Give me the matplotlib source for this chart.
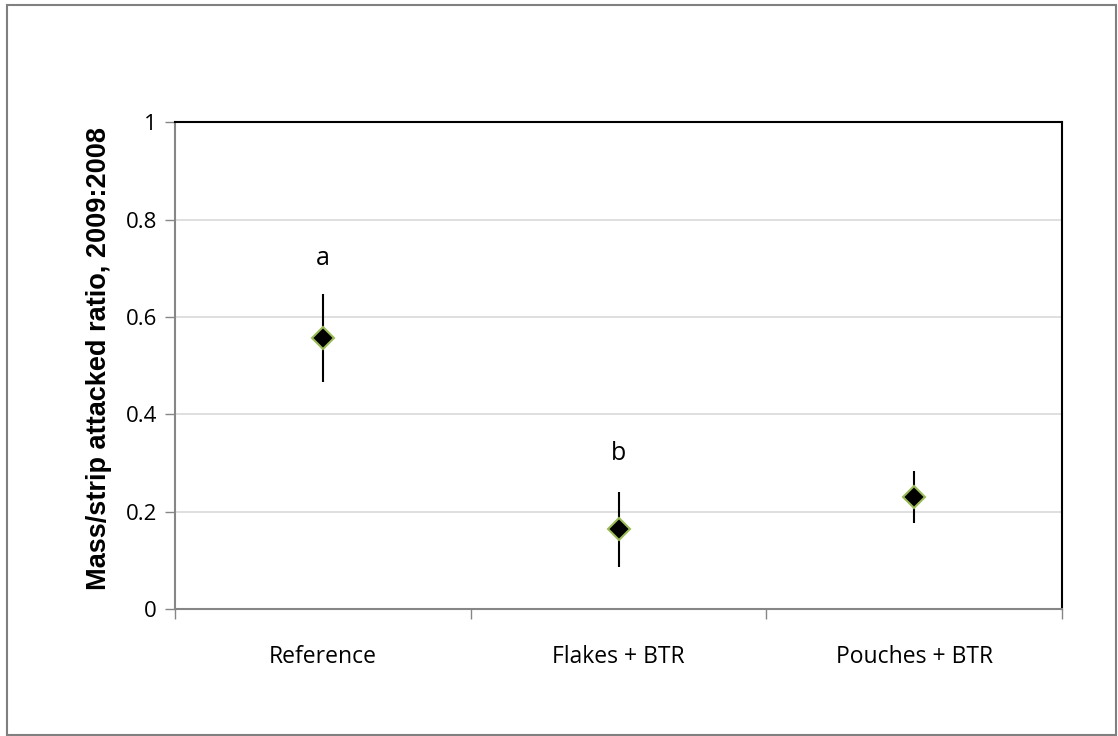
import matplotlib.pyplot as plt
from matplotlib.patches import Rectangle

# data
categories = ['Reference', 'Flakes + BTR', 'Pouches + BTR']
means = [0.556, 0.164, 0.230]
errors = [0.090, 0.077, 0.054]
letters = ['a', 'b', '']
letter_y = [0.72, 0.32, None]
y_ticks = [0, 0.2, 0.4, 0.6, 0.8, 1]
y_tick_labels = ['0', '0.2', '0.4', '0.6', '0.8', '1']

fig = plt.figure(figsize=(11.18, 7.36), dpi=100)
fig.patches.append(Rectangle((0.0065, 0.002), 0.992, 0.991, transform=fig.transFigure,
                             fill=False, edgecolor='#808080', linewidth=1.5))

ax = fig.add_axes([0.1565, 0.1726, 0.7935, 0.6614])
x = [i + 0.5 for i in range(len(categories))]

ax.errorbar(x, means, yerr=errors, fmt='none', ecolor='black', elinewidth=1.5, capsize=0, zorder=3)
ax.plot(x, means, linestyle='none', marker='D', markersize=11, markerfacecolor='black',
        markeredgecolor='#9BBB59', markeredgewidth=1.5, zorder=4)

for xi, lab, ly in zip(x, letters, letter_y):
    if lab:
        ax.text(xi, ly, lab, ha='center', va='center', fontsize=18, family='Open Sans')

ax.set_xlim(0, 3)
ax.set_ylim(0, 1)
ax.set_yticks(y_ticks)
ax.set_yticklabels(y_tick_labels, fontsize=16, family='Open Sans')
ax.set_xticks([0, 1, 2, 3])
ax.set_xticklabels([])
ax.set_xticks(x, minor=True)
ax.set_xticklabels(categories, minor=True, fontsize=16.5, family='Open Sans')
ax.tick_params(axis='x', which='minor', length=0, pad=26)
ax.tick_params(axis='x', which='major', length=7, color='#868686', width=1)
ax.tick_params(axis='y', length=7, color='#868686', width=1, pad=6)

ax.grid(axis='y', color='#D9D9D9', linewidth=1.2)
ax.set_axisbelow(True)

ax.spines['left'].set_color('#868686')
ax.spines['bottom'].set_color('#868686')
ax.spines['left'].set_linewidth(1.5)
ax.spines['bottom'].set_linewidth(1.5)
ax.spines['top'].set_color('black')
ax.spines['right'].set_color('black')
ax.spines['top'].set_linewidth(1.5)
ax.spines['right'].set_linewidth(1.5)

ax.set_ylabel('Mass/strip attacked ratio, 2009:2008', fontsize=19.5, fontweight='bold',
              family='Liberation Sans')
ax.yaxis.set_label_coords(-0.071, 0.515)

fig.savefig('out.png', dpi=100, facecolor='white')
